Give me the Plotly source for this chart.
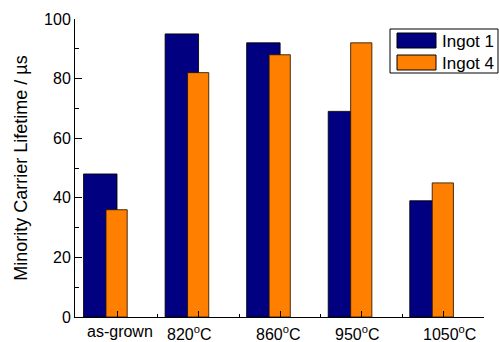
import plotly.graph_objects as go

# Annealing conditions and measured minority carrier lifetimes (µs)
categories = ["as-grown", "820<sup>o</sup>C", "860<sup>o</sup>C", "950<sup>o</sup>C", "1050<sup>o</sup>C"]
positions = [1, 2, 3, 4, 5]
ingot1 = [48, 95, 92, 69, 39]
ingot4 = [36, 82, 88, 92, 45]
series_names = ["Ingot 1", "Ingot 4"]

# Where each category label sits along the x axis
label_x = [1.037, 1.895, 2.986, 3.943, 5.071]

BLUE = "#000080"
ORANGE = "#FF8000"
FONT = "Liberation Sans, Arial, sans-serif"

W, H = 499, 342
ML, MR, MT, MB = 75, 15, 19, 25
PW, PH = W - ML - MR, H - MT - MB


def px_x(p):
    return (p - ML) / PW


def px_y(p):
    return (H - MB - p) / PH


fig = go.Figure()
fig.add_trace(go.Bar(
    x=positions, y=ingot1, name=series_names[0],
    offset=-0.41, width=0.41,
    marker=dict(color=BLUE, line=dict(color="rgba(0,0,0,0.85)", width=1)),
    showlegend=False,
))
fig.add_trace(go.Bar(
    x=positions, y=ingot4, name=series_names[1],
    offset=-0.135, width=0.26,
    marker=dict(color=ORANGE, line=dict(color="rgba(40,20,0,0.85)", width=1)),
    showlegend=False,
))

# Category labels under the axis
for lx, txt in zip(label_x, categories):
    fig.add_annotation(
        x=lx, xref="x", y=px_y(321), yref="paper",
        text=txt, showarrow=False, xanchor="center", yanchor="top",
        font=dict(family=FONT, size=16, color="black"),
    )

# Legend box with swatches
shapes = [
    dict(type="rect", xref="paper", yref="paper",
         x0=px_x(390), x1=px_x(498), y0=px_y(73), y1=px_y(29),
         line=dict(color="black", width=1), fillcolor="white", layer="above"),
    dict(type="rect", xref="paper", yref="paper",
         x0=px_x(397), x1=px_x(436), y0=px_y(48), y1=px_y(33),
         line=dict(color="black", width=1), fillcolor=BLUE, layer="above"),
    dict(type="rect", xref="paper", yref="paper",
         x0=px_x(397), x1=px_x(436), y0=px_y(70), y1=px_y(55),
         line=dict(color="black", width=1), fillcolor=ORANGE, layer="above"),
]
for name, cy in zip(series_names, [41, 63]):
    fig.add_annotation(
        x=px_x(440), xref="paper", y=px_y(cy), yref="paper",
        text=name, showarrow=False, xanchor="left", yanchor="middle",
        font=dict(family=FONT, size=17, color="black"),
    )

fig.update_layout(
    width=W, height=H,
    margin=dict(l=ML, r=MR, t=MT, b=MB, pad=0),
    paper_bgcolor="white", plot_bgcolor="white",
    barmode="overlay",
    shapes=shapes,
    font=dict(family=FONT, size=16, color="black"),
    xaxis=dict(
        range=[0.485, 5.5], tickvals=positions, showticklabels=False,
        ticks="inside", ticklen=6, tickcolor="black", tickwidth=1,
        minor=dict(tickvals=[1.5, 2.5, 3.5, 4.5], ticks="inside", ticklen=3,
                   tickcolor="black", tickwidth=1),
        showline=True, linecolor="black", linewidth=1,
        showgrid=False, zeroline=False, fixedrange=True,
    ),
    yaxis=dict(
        range=[0, 100], tickvals=[0, 20, 40, 60, 80, 100],
        ticks="inside", ticklen=7, tickcolor="black", tickwidth=1,
        minor=dict(tickvals=[10, 30, 50, 70, 90], ticks="inside", ticklen=4,
                   tickcolor="black", tickwidth=1),
        tickfont=dict(family=FONT, size=16, color="black"),
        showline=True, linecolor="black", linewidth=1,
        showgrid=False, zeroline=False, fixedrange=True,
        title=dict(text="Minority Carrier Lifetime / µs",
                   font=dict(family=FONT, size=18, color="black"), standoff=11),
    ),
)

fig.write_html("out.html")
